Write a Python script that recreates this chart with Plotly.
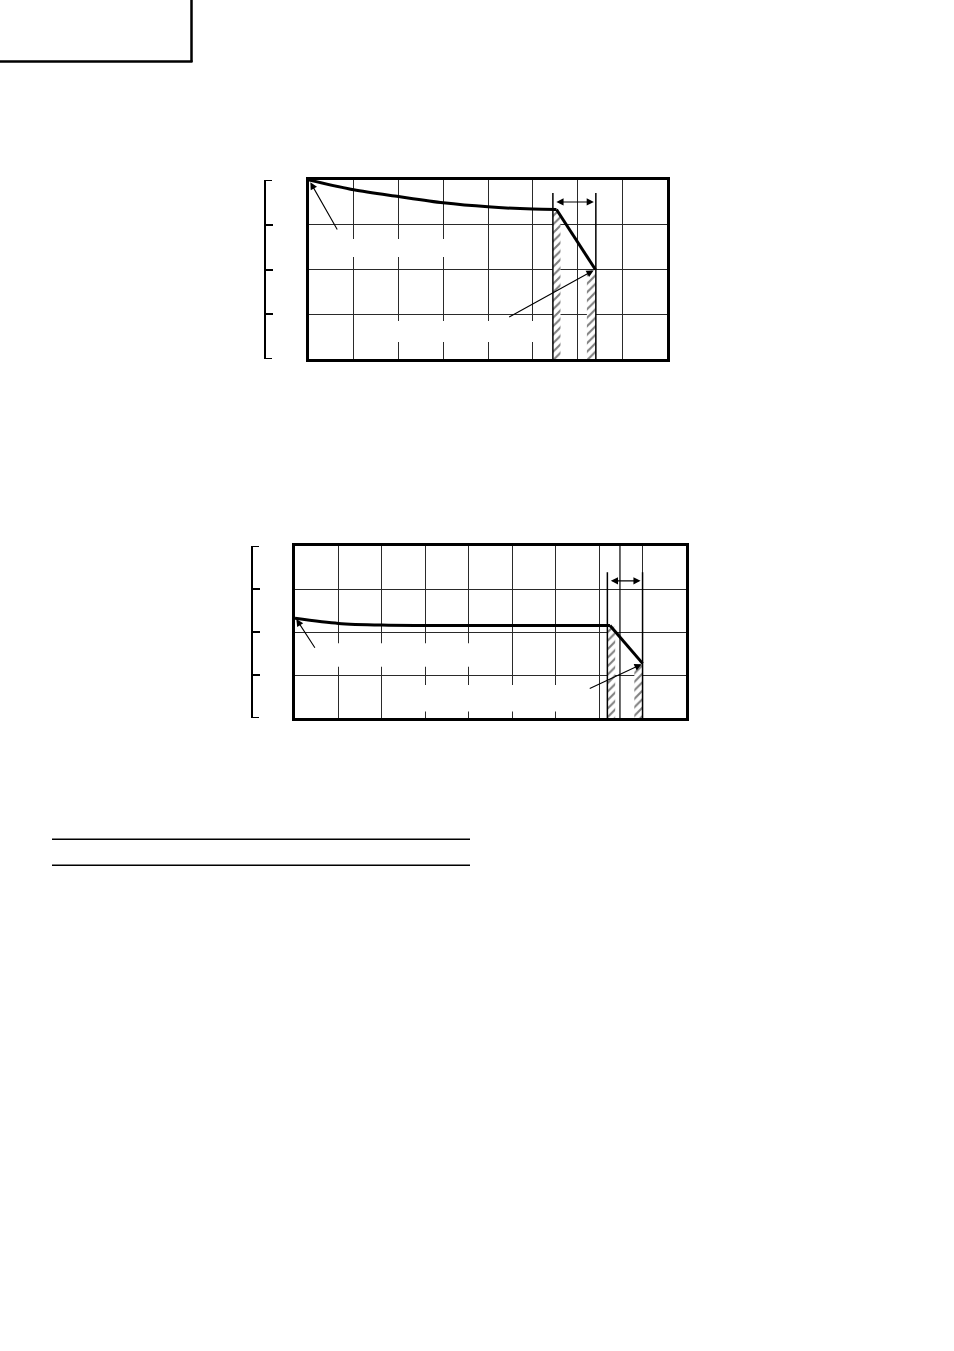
import plotly.graph_objects as go

W, H = 954, 1351

# ---------------- data (grid units) ----------------
# Chart 1 : 8 x 4 grid
c1_curve_x = [0, 1, 2, 3, 4, 5, 5.53]
c1_curve_y = [4.0, 3.78, 3.63, 3.49, 3.40, 3.35, 3.34]
c1_drop_x = [5.53, 6.40]
c1_drop_y = [3.34, 2.0]
c1_band_lines = [5.45, 6.41]
c1_band_top = 3.71
c1_hatch = [(5.45, 5.62, 3.30), (6.21, 6.41, 1.98)]   # x0, x1, top
c1_span_y = 3.51

# Chart 2 : 9 x 4 grid
c2_curve_x = [0, 1, 2, 3, 4, 5, 6, 7.25]
c2_curve_y = [2.32, 2.20, 2.16, 2.15, 2.15, 2.15, 2.15, 2.15]
c2_drop_x = [7.25, 8.0]
c2_drop_y = [2.15, 1.27]
c2_band_lines = [7.19, 8.0]
c2_band_top = 3.39
c2_extra_line = 7.48
c2_hatch = [(7.19, 7.37, 2.12), (7.81, 8.0, 1.25)]
c2_span_y = 3.19

bracket_ends = [0, 4]

# ---------------- helpers ----------------
def px(x):
    return x / W

def py(y):
    return 1 - y / H

fig = go.Figure()

GRID = "#2a2a2a"

def add_chart(n, xr, dom_x, dom_y, bracket_x):
    xa = "xaxis" if n == 1 else f"xaxis{n}"
    ya = "yaxis" if n == 1 else f"yaxis{n}"
    xs = "x" if n == 1 else f"x{n}"
    ys = "y" if n == 1 else f"y{n}"
    fig.update_layout(**{
        xa: dict(domain=dom_x, range=xr, dtick=1, showgrid=True, gridcolor=GRID,
                 gridwidth=1, zeroline=False, showline=True, linecolor="black",
                 linewidth=2.5, mirror=True, showticklabels=False, ticks="",
                 anchor=ys, fixedrange=True),
        ya: dict(domain=dom_y, range=[0, 4], dtick=1, showgrid=True, gridcolor=GRID,
                 gridwidth=1, zeroline=False, showline=True, linecolor="black",
                 linewidth=2.5, mirror=True, showticklabels=False, ticks="",
                 anchor=xs, fixedrange=True),
    })
    # bracket axis
    bn = n + 2
    bya = f"yaxis{bn}"
    fig.update_layout(**{
        bya: dict(overlaying=ys, range=[0, 4], tickvals=[1, 2, 3],
                  anchor="free", position=bracket_x, side="left", showline=True,
                  linecolor="black", linewidth=2, ticks="inside", ticklen=7,
                  tickwidth=1.5, tickcolor="black", showticklabels=False,
                  showgrid=False, zeroline=False, fixedrange=True),
    })
    fig.add_trace(go.Scatter(x=[xr[0]], y=[0], xaxis=xs, yaxis=f"y{bn}",
                             mode="markers", marker=dict(opacity=0),
                             hoverinfo="skip", showlegend=False))
    # bracket end caps
    for yv in bracket_ends:
        fig.add_shape(type="line", xref="paper", yref=ys, x0=bracket_x - px(1),
                      x1=bracket_x + px(7), y0=yv, y1=yv,
                      line=dict(color="black", width=2))
    return xs, ys

x1, y1 = add_chart(1, [0, 8], [px(309), px(667)], [py(359), py(180)], px(265))
x2, y2 = add_chart(2, [0, 9], [px(295), px(686)], [py(718), py(546)], px(252))


def hatch(xs, ys, x0, x1_, top):
    fig.add_trace(go.Scatter(
        x=[x0, x1_, x1_, x0, x0], y=[0, 0, top, top, 0], xaxis=xs, yaxis=ys,
        mode="lines", line=dict(width=0), fill="toself", fillcolor="white",
        fillpattern=dict(shape="/", size=6, solidity=0.35, fgcolor="black",
                         bgcolor="white"),
        hoverinfo="skip", showlegend=False))


def vline(xs, ys, x, top, w=1.5):
    fig.add_trace(go.Scatter(x=[x, x], y=[0, top], xaxis=xs, yaxis=ys, mode="lines",
                             line=dict(color="black", width=w), hoverinfo="skip",
                             showlegend=False))


def curve(xs, ys, cx, cy, dx, dy):
    fig.add_trace(go.Scatter(x=cx, y=cy, xaxis=xs, yaxis=ys, mode="lines",
                             line=dict(color="black", width=3, shape="spline",
                                       smoothing=0.8),
                             hoverinfo="skip", showlegend=False))
    fig.add_trace(go.Scatter(x=dx, y=dy, xaxis=xs, yaxis=ys, mode="lines",
                             line=dict(color="black", width=3), hoverinfo="skip",
                             showlegend=False))


def gap(xs, ys, x0, x1_, y0, y1_):
    fig.add_shape(type="rect", xref=xs, yref=ys, x0=x0, x1=x1_, y0=y0, y1=y1_,
                  fillcolor="white", line=dict(width=0), layer="between")


def arrow(xs, ys, tail, head):
    fig.add_annotation(x=head[0], y=head[1], ax=tail[0], ay=tail[1], xref=xs, yref=ys,
                       axref=xs, ayref=ys, text="", showarrow=True, arrowhead=2,
                       arrowsize=1.3, arrowwidth=1.1, arrowcolor="black")


def span(xs, ys, xa, xb, y):
    fig.add_annotation(x=xb, y=y, ax=xa, ay=y, xref=xs, yref=ys, axref=xs, ayref=ys,
                       text="", showarrow=True, arrowhead=2, startarrowhead=2,
                       arrowside="end+start", arrowsize=1.3, startarrowsize=1.3,
                       arrowwidth=1.1, arrowcolor="black", standoff=2, startstandoff=2)


# ---------- chart 1 ----------
for (a, b, t) in c1_hatch:
    hatch(x1, y1, a, b, t)
for xl in c1_band_lines:
    vline(x1, y1, xl, c1_band_top)
curve(x1, y1, c1_curve_x, c1_curve_y, c1_drop_x, c1_drop_y)
gap(x1, y1, 0.3, 3.4, 2.28, 2.68)
gap(x1, y1, 1.3, 5.3, 0.38, 0.85)
arrow(x1, y1, (0.65, 2.86), (0.03, 3.95))
arrow(x1, y1, (4.44, 0.92), (6.36, 1.98))
span(x1, y1, c1_band_lines[0], c1_band_lines[1], c1_span_y)

# ---------- chart 2 ----------
for (a, b, t) in c2_hatch:
    hatch(x2, y2, a, b, t)
for xl in c2_band_lines:
    vline(x2, y2, xl, c2_band_top)
vline(x2, y2, c2_extra_line, 4, w=1.2)
curve(x2, y2, c2_curve_x, c2_curve_y, c2_drop_x, c2_drop_y)
gap(x2, y2, 0.25, 4.5, 1.19, 1.74)
gap(x2, y2, 2.2, 6.8, 0.15, 0.77)
arrow(x2, y2, (0.48, 1.60), (0.03, 2.30))
arrow(x2, y2, (6.75, 0.67), (7.98, 1.25))
span(x2, y2, c2_band_lines[0], c2_band_lines[1], c2_span_y)

# ---------- page decorations ----------
fig.add_shape(type="line", xref="paper", yref="paper", x0=px(191.5), x1=px(191.5),
              y0=py(0), y1=py(62), line=dict(color="black", width=2.5))
fig.add_shape(type="line", xref="paper", yref="paper", x0=0, x1=px(192.5),
              y0=py(61.5), y1=py(61.5), line=dict(color="black", width=2.5))
for yy in (839.3, 865.3):
    fig.add_shape(type="line", xref="paper", yref="paper", x0=px(52), x1=px(470),
                  y0=py(yy), y1=py(yy), line=dict(color="black", width=1.5))

fig.update_layout(width=W, height=H, margin=dict(l=0, r=0, t=0, b=0),
                  paper_bgcolor="white", plot_bgcolor="white", showlegend=False)

fig.write_html("out.html", config={"displayModeBar": False},
               post_script="document.body.style.margin='0';")
